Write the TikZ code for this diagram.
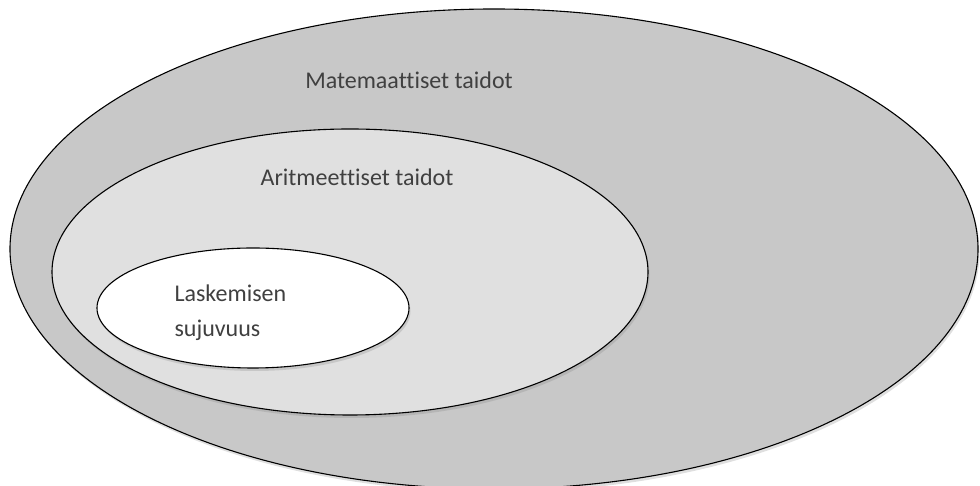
\documentclass[tikz,border=0pt]{standalone}
\usepackage{fontspec}
\setmainfont{Carlito}[Ligatures=NoCommon]
\usepackage{tikz}
\usetikzlibrary{shadows, positioning}
\definecolor{outergray}{HTML}{C8C8C8}
\definecolor{midgray}{HTML}{E0E0E0}
\definecolor{labelgray}{HTML}{404040}
\tikzset{
  ring/.style={line width=1.1pt, draw=black, drop shadow={shadow xshift=1.5pt, shadow yshift=-3pt, opacity=0.25}},
  lbl/.style={text=labelgray, font=\fontsize{24}{35}\selectfont}
}

\begin{document}
\begin{tikzpicture}[x=1pt,y=1pt]
\useasboundingbox (0,0) rectangle (980,486);
\filldraw [ring, fill=outergray] (494,237) ellipse (484 and 240);
\filldraw [ring, fill=midgray] (350,214) ellipse (298 and 143);
\filldraw [ring, fill=white] (253,178) ellipse (156 and 60);
\node[lbl] (mat) at (409,406) {Matemaattiset taidot};
\node[lbl] (arit) at (357,309) {Aritmeettiset taidot};
\node[lbl, align=left, anchor=west] (lask) at (171,173) {Laskemisen\\sujuvuus};
\end{tikzpicture}
\end{document}
